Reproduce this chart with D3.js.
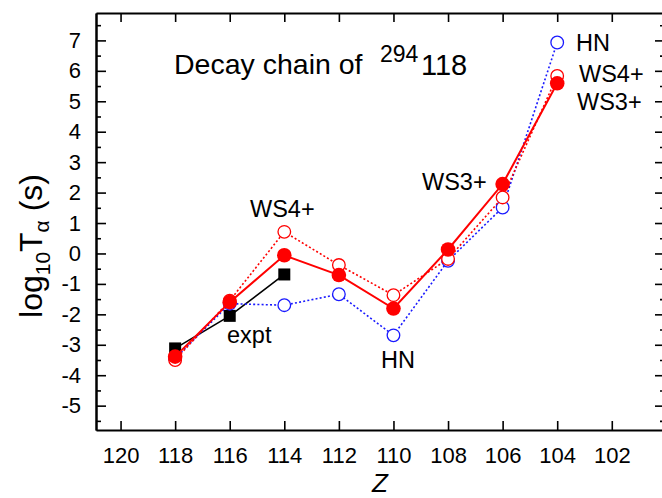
<!DOCTYPE html>
<html>
<head>
<meta charset="utf-8">
<script src="https://cdn.jsdelivr.net/npm/d3@7"></script>
<style>
    body { margin: 0; background: #fff; }
    svg { display: block; font-family: "Liberation Sans", Arial, sans-serif; }
</style>
</head>
<body>
<svg id="svg" width="662" height="498"></svg>
<script>
// proton number of each member of the chain
const zValues = [118, 116, 114, 112, 110, 108, 106, 104];
const zExpt = [118, 116, 114];

// log10 T_alpha (s)
const expt = [-3.12, -2.05, -0.69];
const ws3 = [-3.39, -1.60, -0.06, -0.71, -1.81, 0.13, 2.28, 5.59];
const ws4 = [-3.50, -1.55, 0.71, -0.38, -1.37, -0.18, 1.84, 5.83];
const hn = [-3.45, -1.65, -1.70, -1.34, -2.69, -0.24, 1.51, 6.93];

const xTicks = [120, 118, 116, 114, 112, 110, 108, 106, 104, 102];
const yTicks = [-5, -4, -3, -2, -1, 0, 1, 2, 3, 4, 5, 6, 7];
const yMinor = [-5.5, -4.5, -3.5, -2.5, -1.5, -0.5, 0.5, 1.5, 2.5, 3.5, 4.5, 5.5, 6.5, 7.5];

const svg = d3.select('#svg');
const plot = {left: 96, right: 665, top: 13, bottom: 430};

const x = d3.scaleLinear().domain([120.9, 100.05]).range([plot.left, plot.right]);
const y = d3.scaleLinear().domain([-5.8, 7.9]).range([plot.bottom, plot.top]);

// axes, ticks point inward
function styleAxis(g) {
    g.selectAll('.domain').attr('stroke-width', 2);
    g.selectAll('.tick line').attr('stroke-width', 1.6);
    g.selectAll('text').attr('font-size', 22).attr('fill', '#000');
}

svg.append('g')
    .attr('transform', `translate(0,${plot.bottom})`)
    .call(d3.axisBottom(x).tickValues(xTicks).tickSizeInner(-9).tickSizeOuter(0).tickPadding(17))
    .call(styleAxis);
svg.append('g')
    .attr('transform', `translate(0,${plot.top})`)
    .call(d3.axisTop(x).tickValues(xTicks).tickSizeInner(-9).tickSizeOuter(0).tickFormat(''))
    .call(styleAxis);
svg.append('g')
    .attr('transform', `translate(${plot.left},0)`)
    .call(d3.axisLeft(y).tickValues(yTicks).tickSizeInner(-10).tickSizeOuter(0).tickPadding(15)
        .tickFormat(d3.format('d')))
    .call(styleAxis);
svg.append('g')
    .attr('transform', `translate(${plot.left},0)`)
    .call(d3.axisLeft(y).tickValues(yMinor).tickSizeInner(-5).tickSizeOuter(0).tickFormat(''))
    .call(styleAxis);
svg.append('g')
    .attr('transform', `translate(${plot.right},0)`)
    .call(d3.axisRight(y).tickValues(yTicks).tickSizeInner(-10).tickSizeOuter(0).tickFormat(''))
    .call(styleAxis);
svg.append('g')
    .attr('transform', `translate(${plot.right},0)`)
    .call(d3.axisRight(y).tickValues(yMinor).tickSizeInner(-5).tickSizeOuter(0).tickFormat(''))
    .call(styleAxis);

// the minus sign in the reference is a plain hyphen
svg.selectAll('.tick text').text(function() { return this.textContent.replace('\u2212', '-'); });

const line = d3.line().x(d => x(d[0])).y(d => y(d[1]));

function series(zs, vals, color, width, dash) {
    const pts = zs.map((z, i) => [z, vals[i]]);
    svg.append('path')
        .datum(pts)
        .attr('d', line)
        .attr('fill', 'none')
        .attr('stroke', color)
        .attr('stroke-width', width)
        .attr('stroke-dasharray', dash);
    return pts;
}

// expt: black squares
const ptsExpt = series(zExpt, expt, '#000', 1.6, null);
svg.append('g').selectAll('rect')
    .data(ptsExpt)
    .join('rect')
    .attr('x', d => x(d[0]) - 6)
    .attr('y', d => y(d[1]) - 6)
    .attr('width', 12)
    .attr('height', 12)
    .attr('fill', '#000');

// HN: blue open circles, dotted
const ptsHN = series(zValues, hn, '#1a1aff', 1.6, '2,2.2');
svg.append('g').selectAll('circle')
    .data(ptsHN)
    .join('circle')
    .attr('cx', d => x(d[0]))
    .attr('cy', d => y(d[1]))
    .attr('r', 6.3)
    .attr('fill', '#fff')
    .attr('stroke', '#1a1aff')
    .attr('stroke-width', 1.3);

// WS4+: red open circles, dotted
const ptsWS4 = series(zValues, ws4, '#ff0000', 1.6, '2,2.2');
svg.append('g').selectAll('circle')
    .data(ptsWS4)
    .join('circle')
    .attr('cx', d => x(d[0]))
    .attr('cy', d => y(d[1]))
    .attr('r', 6.3)
    .attr('fill', '#fff')
    .attr('stroke', '#ff0000')
    .attr('stroke-width', 1.3);

// WS3+: red filled circles, solid
const ptsWS3 = series(zValues, ws3, '#ff0000', 2, null);
svg.append('g').selectAll('circle')
    .data(ptsWS3)
    .join('circle')
    .attr('cx', d => x(d[0]))
    .attr('cy', d => y(d[1]))
    .attr('r', 7.3)
    .attr('fill', '#ff0000');

// annotations
const notes = [
    {t: 'WS4+', x: 250, y: 217},
    {t: 'expt', x: 227, y: 343},
    {t: 'HN', x: 381, y: 368},
    {t: 'WS3+', x: 422, y: 190},
    {t: 'HN', x: 576, y: 51},
    {t: 'WS4+', x: 579, y: 82},
    {t: 'WS3+', x: 577, y: 110}
];
svg.append('g').selectAll('text')
    .data(notes)
    .join('text')
    .attr('x', d => d.x)
    .attr('y', d => d.y)
    .attr('font-size', 23.5)
    .text(d => d.t);

// title
svg.append('text').attr('x', 174).attr('y', 74).attr('font-size', 28.5).text('Decay chain of');
svg.append('text').attr('x', 380).attr('y', 62).attr('font-size', 23).text('294');
svg.append('text').attr('x', 421).attr('y', 75).attr('font-size', 29).text('118');

// y label
const ylab = svg.append('text')
    .attr('transform', 'translate(42,246) rotate(-90)')
    .attr('text-anchor', 'middle')
    .attr('font-size', 32);
ylab.append('tspan').text('log');
ylab.append('tspan').attr('font-size', 21).attr('dy', 8).text('10');
ylab.append('tspan').attr('dy', -8).text('T');
ylab.append('tspan').attr('font-size', 21).attr('dy', 7).text('\u03b1');
ylab.append('tspan').attr('dy', -7).text(' (s)');

// x label at the bottom edge
svg.append('text')
    .attr('x', 380)
    .attr('y', 492)
    .attr('text-anchor', 'middle')
    .attr('font-size', 26)
    .attr('font-style', 'italic')
    .text('Z');
</script>
</body>
</html>
